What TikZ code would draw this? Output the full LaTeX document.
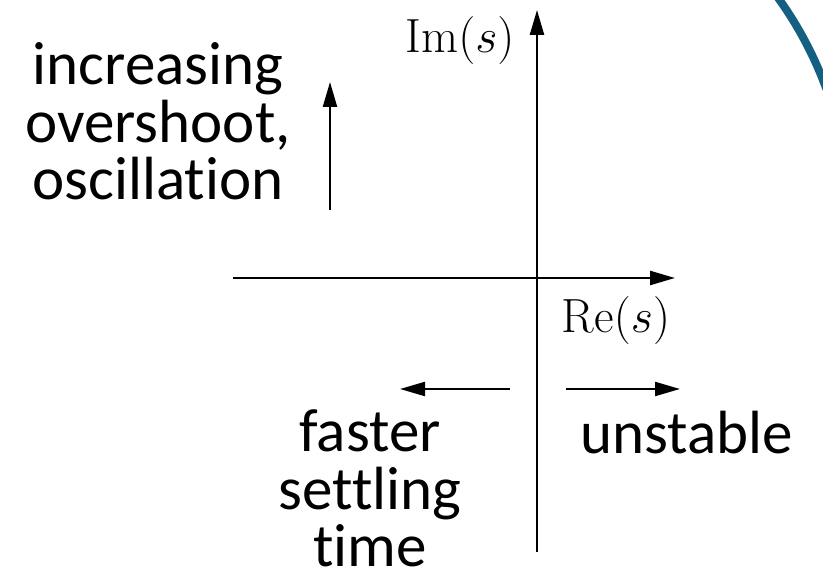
\RequirePackage{fix-cm}
\documentclass[tikz,border=0pt]{standalone}
\usepackage{fontspec}
\usepackage{amsmath}
\setsansfont{Carlito}[Ligatures=NoCommon]
\usetikzlibrary{arrows.meta}
\definecolor{framecol}{RGB}{21,96,130}
\tikzset{axis/.style={line width=2.4pt,-{Triangle[length=25pt,width=14pt]}},
hint/.style={line width=2.2pt,-{Triangle[length=25pt,width=14pt]}},
note/.style={font=\sffamily\fontsize{61}{57.5}\selectfont, align=center, anchor=base, inner sep=0pt},
axlabel/.style={font=\fontsize{48}{56}\selectfont, anchor=base, inner sep=0pt}}

\begin{document}
\begin{tikzpicture}[x=1pt,y=1pt]
 \useasboundingbox (0,0) rectangle (823,581);
 %Frame corner (rounded edge of the slide box)
 \begin{scope}
  \clip (0,0) rectangle (823,581);
  \draw[framecol, line width=8pt] (769.7,594.3) .. controls (793.8,563.4) and (813.0,528.7) .. (826.4,491.9);
 \end{scope}

 %Drawing Axes
 \coordinate (imlow) at (537,29);
 \coordinate (imtop) at (537,571);
 \coordinate (releft) at (233,303);
 \coordinate (retop) at (675,303);
 \draw[axis] (imlow) -- (imtop);
 \draw[axis] (releft) -- (retop);
 \node[axlabel] (imlabel) at (460,528) {$\mathrm{Im}(s)$};
 \node[axlabel] (relabel) at (616,248) {$\mathrm{Re}(s)$};

 %Drawing hints and arrows (base = last line)
 \node[note] (oscill) at (158,381) {increasing\\overshoot,\\oscillation};
 \node[note] (settle) at (370,14) {faster\\settling\\time};
 \node[note] (unstab) at (687,127) {unstable};

 \coordinate (upfrom) at (330,371);
 \coordinate (upto) at (330,499);
 \draw[hint] (upfrom) -- (upto);
 \coordinate (leftfrom) at (510,192);
 \coordinate (leftto) at (400,192);
 \draw[hint] (leftfrom) -- (leftto);
 \coordinate (rightfrom) at (566,192);
 \coordinate (rightto) at (680,192);
 \draw[hint] (rightfrom) -- (rightto);
\end{tikzpicture}
\end{document}
